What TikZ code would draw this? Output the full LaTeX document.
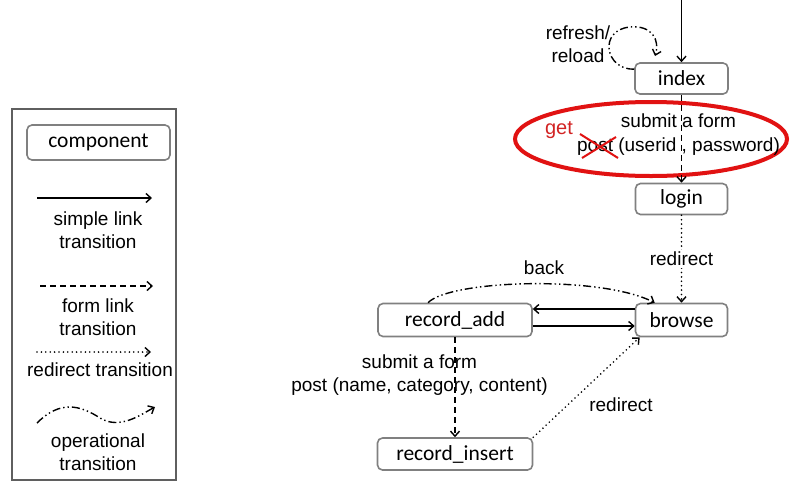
\documentclass[tikz,border=0pt]{standalone}
\usepackage{fontspec}
\setmainfont{Liberation Sans}
\newfontfamily\boxfont{Carlito}
\usetikzlibrary{arrows.meta}
\definecolor{boxgray}{RGB}{128,128,128}
\definecolor{framegray}{RGB}{95,95,95}
\definecolor{ellred}{RGB}{225,18,18}
\definecolor{getred}{RGB}{210,35,35}

\begin{document}
\begin{tikzpicture}[x=1pt,y=-1pt,
  comp/.style={draw=boxgray, line width=1.6pt, rounded corners=5pt, inner sep=0pt,
    font=\boxfont\fontsize{21.5}{24}\selectfont},
  lbl/.style={font=\fontsize{19}{23}\selectfont, align=center, inner sep=0pt},
  tip/.style={-{Straight Barb[length=5pt,width=9pt,line width=1.4pt,line cap=butt]}},
  simple/.style={tip, line width=1.4pt},
  form/.style={tip, line width=1.4pt, dash pattern=on 6pt off 4pt},
  redir/.style={tip, line width=1.8pt, line cap=round, dash pattern=on 0pt off 4.4pt},
  oper/.style={tip, line width=1.4pt, dash pattern=on 8pt off 3pt on 1.4pt off 3pt on 1.4pt off 3pt},
]
\fill[white] (0,0) rectangle (802,485);
\useasboundingbox (0,0) rectangle (802,485);

% ---------- legend ----------
\draw[framegray, line width=1.1pt] (12,109) rectangle (176,480);
\node[comp, minimum width=143pt, minimum height=35pt] (component) at (98.5,142.5) {component};

\coordinate (s0) at (37,198);
\coordinate (s1) at (152,198);
\draw[simple] (s0) -- (s1);
\node[lbl] (simplelbl) at (98,230.5) {simple link\\transition};

\coordinate (f0) at (40,286);
\coordinate (f1) at (153,286);
\draw[form] (f0) -- (f1);
\node[lbl] (formlbl) at (98,317.5) {form link\\transition};

\coordinate (r0) at (37,352);
\coordinate (r1) at (151,352);
\draw[redir] (r0) -- (r1);
\node[lbl] (redirlbl) at (100,370) {redirect transition};

\coordinate (o0) at (37,423);
\coordinate (o1) at (155,407);
\draw[oper] (o0) .. controls (60,400) and (80,405) .. (100,418)
             .. controls (120,430) and (140,415) .. (o1);
\node[lbl] (operlbl) at (98,452) {operational\\transition};

% ---------- components ----------
\node[comp, minimum width=93pt, minimum height=31pt] (index) at (681.5,78.5) {index};
\node[comp, minimum width=92pt, minimum height=31pt] (login) at (681.5,199) {login};
\node[comp, minimum width=92pt, minimum height=33pt] (browse) at (681.5,320) {browse};
\node[comp, minimum width=154pt, minimum height=33pt] (recadd) at (455,320) {record\_add};
\node[comp, minimum width=155pt, minimum height=32pt] (recins) at (455,454) {record\_insert};

% entry link into index
\coordinate (entry) at (681.5,0);
\draw[simple] (entry) -- (index.north);

% refresh / reload loop
\draw[oper] ([yshift=-7pt]index.north west) .. controls (605,70) and (598,30) .. (630,27)
            .. controls (652,25) and (660,40) .. (655,56);
\node[lbl] (reload) at (578,44) {refresh/\\reload};

% login form, highlighted
\draw[ellred, line width=4pt] (651,139) ellipse [x radius=136, y radius=37];
\node[lbl, font=\fontsize{19}{24}\selectfont] (loginform) at (678.5,134.5)
  {submit a form\\post (userid , password)};
\draw[ellred, line width=2pt] (580,134) -- (618,158);
\draw[ellred, line width=2pt] (582,158) -- (616,137);
\node[text=getred, font=\fontsize{20}{24}\selectfont, inner sep=0pt] (get) at (559,130) {get};
\draw[form] (index.south) -- (login.north);

% redirect to browse
\draw[redir] (login.south) -- node[lbl, fill=white, inner sep=2pt] (redirA) {redirect} (browse.north);

% record_add <-> browse
\draw[oper] ([xshift=-27pt]recadd.north) .. controls (450,280) and (600,275) .. ([xshift=20pt]browse.north west);
\node[lbl] (backlbl) at (544,268) {back};
\draw[simple] ([yshift=11pt]browse.west) -- ([yshift=11pt]recadd.east);
\draw[simple] ([yshift=-6pt]recadd.east) -- ([yshift=-6pt]browse.west);

% record_add -> record_insert
\draw[form] (recadd.south) -- (recadd.south |- recins.north);
\node[lbl] (addform) at (419.5,375.5) {submit a form\\post (name, category, content)};

% record_insert -> browse
\draw[redir] (recins.north east) -- ([xshift=5pt]browse.south west);
\node[lbl] (redirB) at (621,405) {redirect};
\end{tikzpicture}
\end{document}
